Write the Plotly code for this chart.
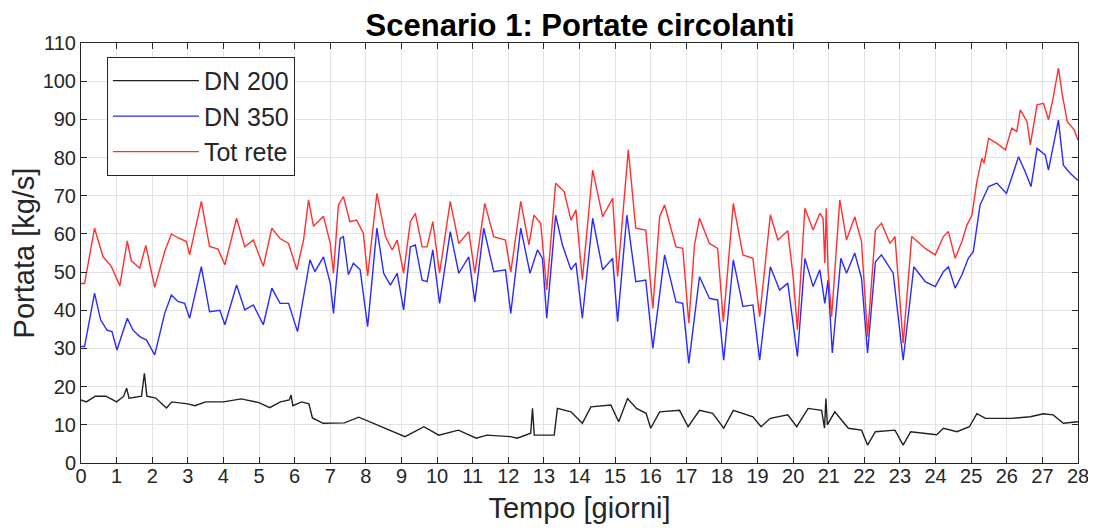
import plotly.graph_objects as go

# ---- data ----
dn200_t = [0.00, 0.15, 0.40, 0.70, 1.00, 1.20, 1.28, 1.35, 1.70, 1.78, 1.85, 2.10, 2.40, 2.55, 3.00,
           3.20, 3.50, 4.00, 4.50, 5.00, 5.30, 5.60, 5.85, 5.90, 5.95, 6.20, 6.40, 6.50, 6.80, 7.40,
           7.80, 8.10, 8.50, 8.83, 9.10, 9.63, 10.05, 10.60, 11.10, 11.40, 12.06, 12.25, 12.63, 12.68,
           12.73, 13.29, 13.38, 13.76, 14.08, 14.32, 14.88, 15.10, 15.35, 15.60, 15.87, 16.00, 16.25,
           16.81, 17.05, 17.37, 17.74, 18.05, 18.32, 18.87, 19.10, 19.36, 19.85, 20.10, 20.42, 20.80,
           20.88, 20.92, 20.96, 21.17, 21.30, 21.55, 21.92, 22.09, 22.31, 22.86, 23.09, 23.30, 24.03,
           24.22, 24.60, 24.95, 25.16, 25.40, 26.14, 26.66, 27.03, 27.30, 27.59, 28.00]
dn200_v = [16.5, 16.0, 17.5, 17.5, 16.0, 17.5, 19.6, 17.0, 17.5, 23.5, 17.5, 17.0, 14.4, 16.0, 15.5,
           15.0, 16.0, 16.0, 16.8, 15.8, 14.5, 16.0, 16.5, 17.8, 15.0, 16.0, 15.5, 11.8, 10.4, 10.5,
           12.0, 10.8, 9.3, 7.8, 6.9, 9.5, 7.3, 8.6, 6.5, 7.3, 6.9, 6.5, 7.8, 14.3,
           7.3, 7.3, 14.3, 13.4, 10.4, 14.7, 15.2, 10.8, 16.9, 14.3, 13.0, 9.1, 13.4,
           13.8, 9.5, 13.8, 13.0, 9.1, 13.8, 12.1, 9.5, 11.7, 12.6, 9.5, 14.3, 13.8,
           9.1, 16.9, 10.0, 13.4, 12.0, 9.1, 8.6, 4.7, 8.2, 8.6, 4.7, 8.2, 7.4,
           9.1, 8.2, 9.5, 12.9, 11.7, 11.7, 12.1, 12.9, 12.6, 10.4, 10.8]

dn350_t = [0.00, 0.10, 0.38, 0.55, 0.73, 0.87, 1.01, 1.30, 1.46, 1.65, 1.84, 2.07, 2.35, 2.54, 2.72,
           2.91, 3.05, 3.38, 3.61, 3.90, 4.04, 4.37, 4.60, 4.84, 5.12, 5.36, 5.59, 5.83, 6.08, 6.29,
           6.43, 6.57, 6.81, 7.00, 7.09, 7.28, 7.37, 7.51, 7.65, 7.84, 8.05, 8.31, 8.50, 8.69, 8.88,
           9.06, 9.25, 9.39, 9.58, 9.72, 9.88, 10.07, 10.37, 10.61, 10.89, 11.06, 11.31, 11.59, 11.92,
           12.07, 12.35, 12.61, 12.82, 12.96, 13.08, 13.33, 13.52, 13.76, 13.90, 14.08, 14.37, 14.65,
           14.93, 15.07, 15.33, 15.58, 15.86, 16.06, 16.39, 16.71, 16.90, 17.07, 17.37, 17.65, 17.88,
           18.05, 18.32, 18.59, 18.87, 19.06, 19.36, 19.62, 19.85, 20.12, 20.33, 20.56, 20.75, 20.89,
           20.98, 21.10, 21.34, 21.50, 21.73, 21.92, 22.09, 22.31, 22.48, 22.81, 23.09, 23.39, 23.71,
           23.99, 24.22, 24.36, 24.55, 24.74, 24.92, 25.06, 25.25, 25.49, 25.72, 25.99, 26.14, 26.33,
           26.52, 26.68, 26.85, 27.08, 27.17, 27.45, 27.59, 27.78, 28.00]
dn350_v = [30.5, 30.5, 44.5, 37.5, 34.8, 34.4, 29.6, 37.9, 34.8, 33.1, 32.2, 28.3, 39.2, 44.0, 42.3,
           41.8, 37.9, 51.4, 39.6, 40.0, 36.2, 46.6, 40.1, 41.4, 36.2, 45.8, 41.8, 41.8, 34.4, 45.3,
           53.2, 50.1, 54.0, 47.1, 39.2, 58.8, 59.3, 49.3, 52.3, 50.6, 35.7, 61.5, 49.7, 46.6, 49.7,
           40.1, 56.6, 57.1, 47.9, 47.5, 55.8, 41.8, 60.6, 49.7, 54.0, 42.2, 61.5, 50.1, 50.6,
           39.2, 61.5, 49.7, 55.8, 53.6, 37.9, 64.9, 57.1, 50.6, 52.4, 37.9, 64.1, 50.6,
           53.6, 37.0, 64.9, 47.5, 47.9, 30.0, 54.5, 42.2, 41.8, 26.1, 48.8, 43.1, 42.7,
           26.9, 53.2, 41.0, 41.4, 26.9, 51.4, 45.3, 47.1, 27.9, 53.6, 46.2, 50.6, 41.8,
           47.9, 28.8, 53.6, 49.7, 55.0, 48.4, 28.8, 52.7, 54.5, 49.7, 26.9, 51.4, 47.5,
           46.2, 50.1, 51.4, 45.8, 49.3, 53.6, 55.4, 67.6, 72.4, 73.3, 70.6, 74.6, 80.2,
           76.2, 72.4, 82.4, 80.7, 76.7, 89.8, 78.0, 75.9, 74.0]

tot_t = [0.00, 0.10, 0.38, 0.62, 0.85, 1.09, 1.30, 1.41, 1.65, 1.82, 2.07, 2.35, 2.54, 2.72, 2.96,
         3.05, 3.38, 3.61, 3.85, 4.04, 4.37, 4.60, 4.84, 5.12, 5.36, 5.59, 5.83, 6.06, 6.25, 6.39,
         6.53, 6.81, 7.00, 7.09, 7.23, 7.37, 7.55, 7.74, 7.93, 8.05, 8.31, 8.55, 8.74, 8.88, 9.06,
         9.25, 9.39, 9.58, 9.72, 9.88, 10.07, 10.37, 10.61, 10.89, 11.06, 11.34, 11.59, 11.92, 12.07,
         12.35, 12.58, 12.72, 12.91, 13.08, 13.33, 13.57, 13.76, 13.90, 14.08, 14.37, 14.65, 14.93,
         15.07, 15.37, 15.58, 15.86, 16.06, 16.25, 16.39, 16.71, 16.90, 17.07, 17.23, 17.37, 17.65,
         17.88, 18.04, 18.32, 18.59, 18.87, 19.06, 19.36, 19.57, 19.85, 20.00, 20.12, 20.33, 20.56,
         20.75, 20.84, 20.89, 20.93, 20.98, 21.08, 21.31, 21.50, 21.73, 21.92, 22.09, 22.31, 22.48,
         22.72, 22.86, 23.09, 23.33, 23.71, 23.99, 24.22, 24.36, 24.55, 24.74, 24.88, 25.02, 25.16,
         25.30, 25.36, 25.49, 25.72, 25.96, 26.14, 26.28, 26.38, 26.57, 26.66, 26.85, 27.03, 27.17,
         27.30, 27.45, 27.56, 27.70, 27.89, 28.00]
tot_v = [47.0, 47.0, 61.5, 54.0, 51.5, 46.4, 58.2, 53.0, 51.0, 57.0, 46.0, 55.4, 60.0, 59.0, 58.0,
         54.5, 68.5, 56.7, 56.0, 51.9, 64.1, 56.6, 58.4, 51.5, 61.5, 58.8, 57.5, 50.6, 58.4, 68.9,
         62.0, 64.6, 57.5, 49.7, 67.6, 69.8, 63.2, 63.6, 60.2, 49.0, 70.6, 59.3, 55.8, 58.4, 49.7,
         63.2, 65.4, 56.6, 56.6, 63.2, 49.7, 68.5, 57.5, 60.6, 49.7, 68.0, 59.3, 58.4, 50.0,
         68.5, 57.1, 64.9, 62.8, 45.3, 73.3, 71.1, 63.6, 66.3, 48.0, 76.7, 64.5, 69.3,
         48.8, 82.0, 61.5, 61.0, 40.5, 64.5, 67.6, 56.6, 56.2, 36.6, 57.1, 64.1, 57.5,
         56.2, 37.0, 68.0, 54.5, 53.6, 38.3, 65.0, 58.4, 60.8, 48.8, 34.9, 66.7, 61.0,
         65.4, 64.1, 52.3, 66.7, 50.6, 38.3, 68.9, 58.4, 64.5, 58.0, 33.1, 61.0, 62.8,
         57.5, 59.3, 31.4, 59.3, 56.2, 54.5, 59.3, 60.6, 53.6, 58.0, 62.3, 64.9, 73.7,
         79.8, 78.5, 85.0, 83.7, 82.0, 87.7, 86.8, 92.5, 89.4, 83.3, 93.8, 94.2, 89.9,
         95.5, 103.4, 96.4, 89.4, 87.3, 84.5]

x_ticks = list(range(0, 29))
y_ticks = list(range(0, 111, 10))

AX = "#262626"
FONT = "Liberation Sans, Arial, sans-serif"

fig = go.Figure()
fig.add_trace(go.Scatter(x=dn200_t, y=dn200_v, mode="lines", name="DN 200",
                         line=dict(color="#202020", width=1.4)))
fig.add_trace(go.Scatter(x=dn350_t, y=dn350_v, mode="lines", name="DN 350",
                         line=dict(color="#2a2aff", width=1.4)))
fig.add_trace(go.Scatter(x=tot_t, y=tot_v, mode="lines", name="Tot rete",
                         line=dict(color="#ff3030", width=1.4)))

axis_common = dict(showline=True, linecolor=AX, linewidth=1, mirror="ticks",
                   ticks="inside", ticklen=6, tickcolor=AX, showgrid=True,
                   gridcolor="#e3e3e3", gridwidth=1, zeroline=False, automargin=False,
                   tickfont=dict(family=FONT, size=20, color=AX))

fig.update_xaxes(range=[0, 28], tickvals=x_ticks, ticktext=[str(v) for v in x_ticks],
                 ticklabelstandoff=-5,
                 title=dict(text="Tempo [giorni]", font=dict(family=FONT, size=29, color=AX),
                            standoff=11),
                 **axis_common)
fig.update_yaxes(range=[0, 110], tickvals=y_ticks, ticktext=[str(v) for v in y_ticks],
                 title=dict(text="Portata [kg/s]", font=dict(family=FONT, size=29, color=AX),
                            standoff=11),
                 **axis_common)

fig.update_layout(
    width=1096, height=531,
    margin=dict(l=73, r=26, t=35, b=76, autoexpand=False),
    paper_bgcolor="white", plot_bgcolor="white",
    title=dict(text="<b>Scenario 1: Portate circolanti</b>", x=0.522, xanchor="center",
               y=0.968, yanchor="middle", font=dict(family=FONT, size=31, color="#000000")),
    legend=dict(x=0.026, y=0.967, xanchor="left", yanchor="top",
                bgcolor="white", bordercolor=AX, borderwidth=1,
                font=dict(family=FONT, size=25, color=AX), itemwidth=86,
                tracegroupgap=0),
    showlegend=True,
)

fig.write_html("out.html")
